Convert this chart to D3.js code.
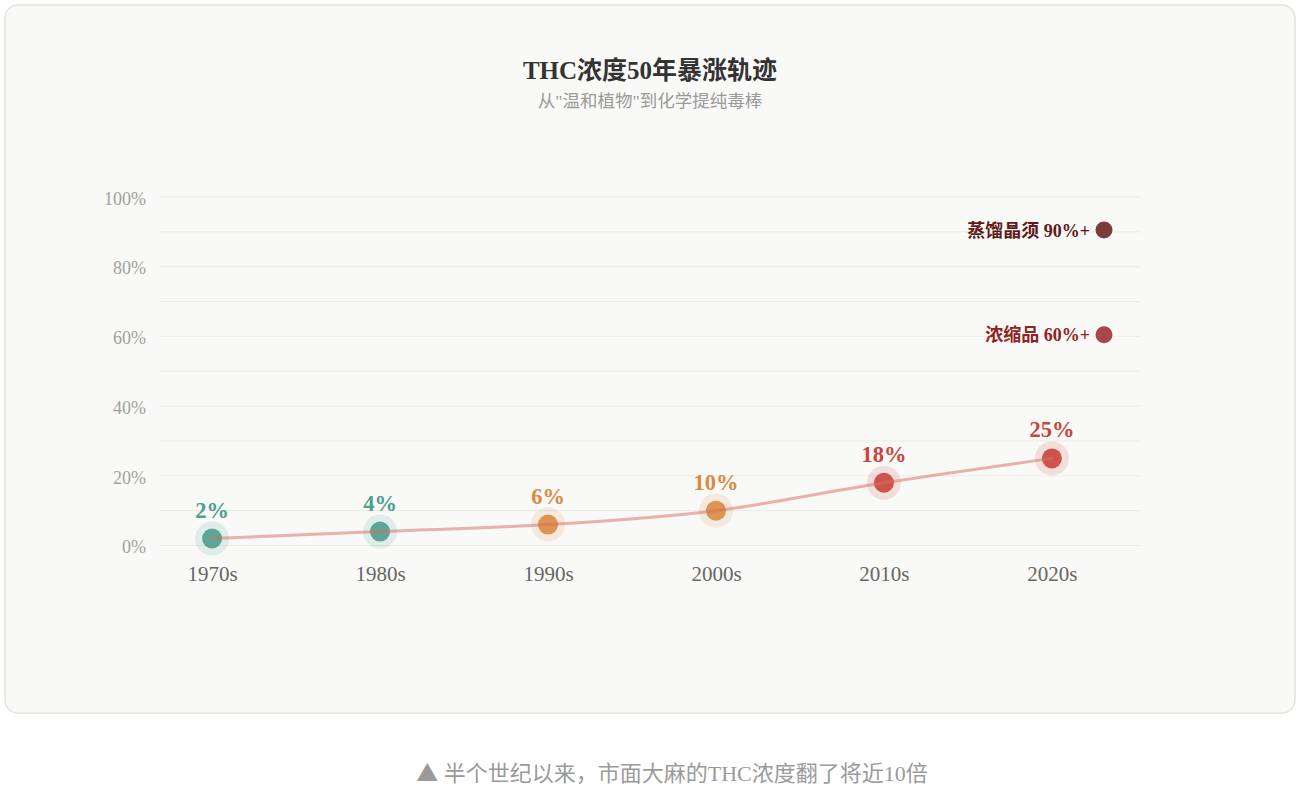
<!DOCTYPE html>
<html>
<head>
<meta charset="utf-8">
<script src="https://cdn.jsdelivr.net/npm/d3@7"></script>
<style>
    html, body { margin: 0; padding: 0; background: #ffffff; }
    body { width: 1304px; height: 796px; overflow: hidden; }
    svg { display: block; }
</style>
</head>
<body>
<div id="showBox"></div>
<script>
// decades and THC concentration (%)
const decades = ["1970s", "1980s", "1990s", "2000s", "2010s", "2020s"]
const thc = [2, 4, 6, 10, 18, 25]
const stage = ["low", "low", "mid", "mid", "high", "high"]

// concentrate products shown on the right edge
const extractNames = ["蒸馏晶须 90%+", "浓缩品 60%+"]
const extractValues = [90.5, 60.5]

const yTicks = [0, 20, 40, 60, 80, 100]
const gridTicks = [0, 10, 20, 30, 40, 50, 60, 70, 80, 90, 100]

const W = 1304, H = 796
const serif = "'Liberation Serif', 'Noto Sans CJK SC', serif"

const stageColor = {low: "#4f9e8e", mid: "#d98b43", high: "#c9453b"}
const extractDot = ["#7d3b3b", "#a94646"]
const extractText = ["#5e1a1a", "#8e2424"]

const svg = d3.select("#showBox").append("svg")
    .attr("width", W)
    .attr("height", H)

// card
svg.append("rect")
    .attr("x", 5).attr("y", 5)
    .attr("width", 1290).attr("height", 708)
    .attr("rx", 13)
    .attr("fill", "#f9f9f7")
    .attr("stroke", "#e3e3df")
    .attr("stroke-width", 1.5)

svg.append("text")
    .attr("x", 650).attr("y", 79)
    .attr("text-anchor", "middle")
    .attr("font-family", serif)
    .attr("font-weight", "bold")
    .attr("font-size", 25)
    .attr("fill", "#333")
    .text("THC浓度50年暴涨轨迹")

svg.append("text")
    .attr("x", 650).attr("y", 107)
    .attr("text-anchor", "middle")
    .attr("font-family", serif)
    .attr("font-size", 17.5)
    .attr("fill", "#9a9a9a")
    .text("从\"温和植物\"到化学提纯毒棒")

const x = d3.scalePoint()
    .domain(decades)
    .range([160, 1104])
    .padding(0.31)

const y = d3.scaleLinear()
    .domain([0, 100])
    .range([545.5, 197])

const plot = svg.append("g")

// grid
plot.append("g")
    .selectAll("line")
    .data(gridTicks)
    .join("line")
    .attr("x1", 160).attr("x2", 1140)
    .attr("y1", d => y(d)).attr("y2", d => y(d))
    .attr("stroke", "#ebebe7")
    .attr("stroke-width", 1)

// y axis labels
const yAxis = plot.append("g")
    .attr("transform", "translate(146,0)")
    .call(d3.axisLeft(y).tickValues(yTicks).tickFormat(d => d + "%").tickSize(0).tickPadding(0))
yAxis.select(".domain").remove()
yAxis.selectAll("text")
    .attr("font-family", serif)
    .attr("font-size", 18)
    .attr("fill", "#a0a0a0")
    .attr("dy", "0.4em")

// x axis labels
const xAxis = plot.append("g")
    .attr("transform", "translate(0,564)")
    .call(d3.axisBottom(x).tickSize(0).tickPadding(0))
xAxis.select(".domain").remove()
xAxis.selectAll("text")
    .attr("font-family", serif)
    .attr("font-size", 21)
    .attr("fill", "#666")
    .attr("dy", "0.8em")

const pts = decades.map((d, i) => ({decade: d, value: thc[i], stage: stage[i]}))

// halos + dots
plot.append("g")
    .selectAll("circle")
    .data(pts)
    .join("circle")
    .attr("cx", d => x(d.decade))
    .attr("cy", d => y(d.value))
    .attr("r", 17)
    .attr("fill", d => stageColor[d.stage])
    .attr("fill-opacity", 0.15)

plot.append("g")
    .selectAll("circle")
    .data(pts)
    .join("circle")
    .attr("cx", d => x(d.decade))
    .attr("cy", d => y(d.value))
    .attr("r", 10)
    .attr("fill", d => stageColor[d.stage])
    .attr("fill-opacity", 0.9)

// trend line on top
const line = d3.line()
    .x(d => x(d.decade))
    .y(d => y(d.value))
    .curve(d3.curveMonotoneX)

plot.append("path")
    .datum(pts)
    .attr("d", line)
    .attr("fill", "none")
    .attr("stroke", "#d9695f")
    .attr("stroke-opacity", 0.5)
    .attr("stroke-width", 3)
    .attr("stroke-linecap", "round")

// value labels
plot.append("g")
    .selectAll("text")
    .data(pts)
    .join("text")
    .attr("x", d => x(d.decade))
    .attr("y", d => y(d.value) - 21)
    .attr("text-anchor", "middle")
    .attr("font-family", serif)
    .attr("font-weight", "bold")
    .attr("font-size", 22.5)
    .attr("fill", d => stageColor[d.stage])
    .text(d => d.value + "%")

// extracts on the right
const ex = extractNames.map((n, i) => ({name: n, value: extractValues[i], i: i}))
const exX = x.range()[1]

plot.append("g")
    .selectAll("circle")
    .data(ex)
    .join("circle")
    .attr("cx", exX)
    .attr("cy", d => y(d.value))
    .attr("r", 8.5)
    .attr("fill", d => extractDot[d.i])

plot.append("g")
    .selectAll("text")
    .data(ex)
    .join("text")
    .attr("x", exX - 14)
    .attr("y", d => y(d.value))
    .attr("dy", "0.36em")
    .attr("text-anchor", "end")
    .attr("font-family", serif)
    .attr("font-weight", "bold")
    .attr("font-size", 18)
    .attr("fill", d => extractText[d.i])
    .text(d => d.name)

// caption
const cap = svg.append("text")
    .attr("x", 672).attr("y", 781)
    .attr("text-anchor", "middle")
    .attr("font-family", serif)
    .attr("font-size", 22)
    .attr("fill", "#9a9a9a")
cap.append("tspan")
    .attr("font-family", "'Noto Sans CJK SC', sans-serif")
    .attr("font-size", 22)
    .text("▲")
cap.append("tspan")
    .text(" 半个世纪以来，市面大麻的THC浓度翻了将近10倍")
</script>
</body>
</html>
